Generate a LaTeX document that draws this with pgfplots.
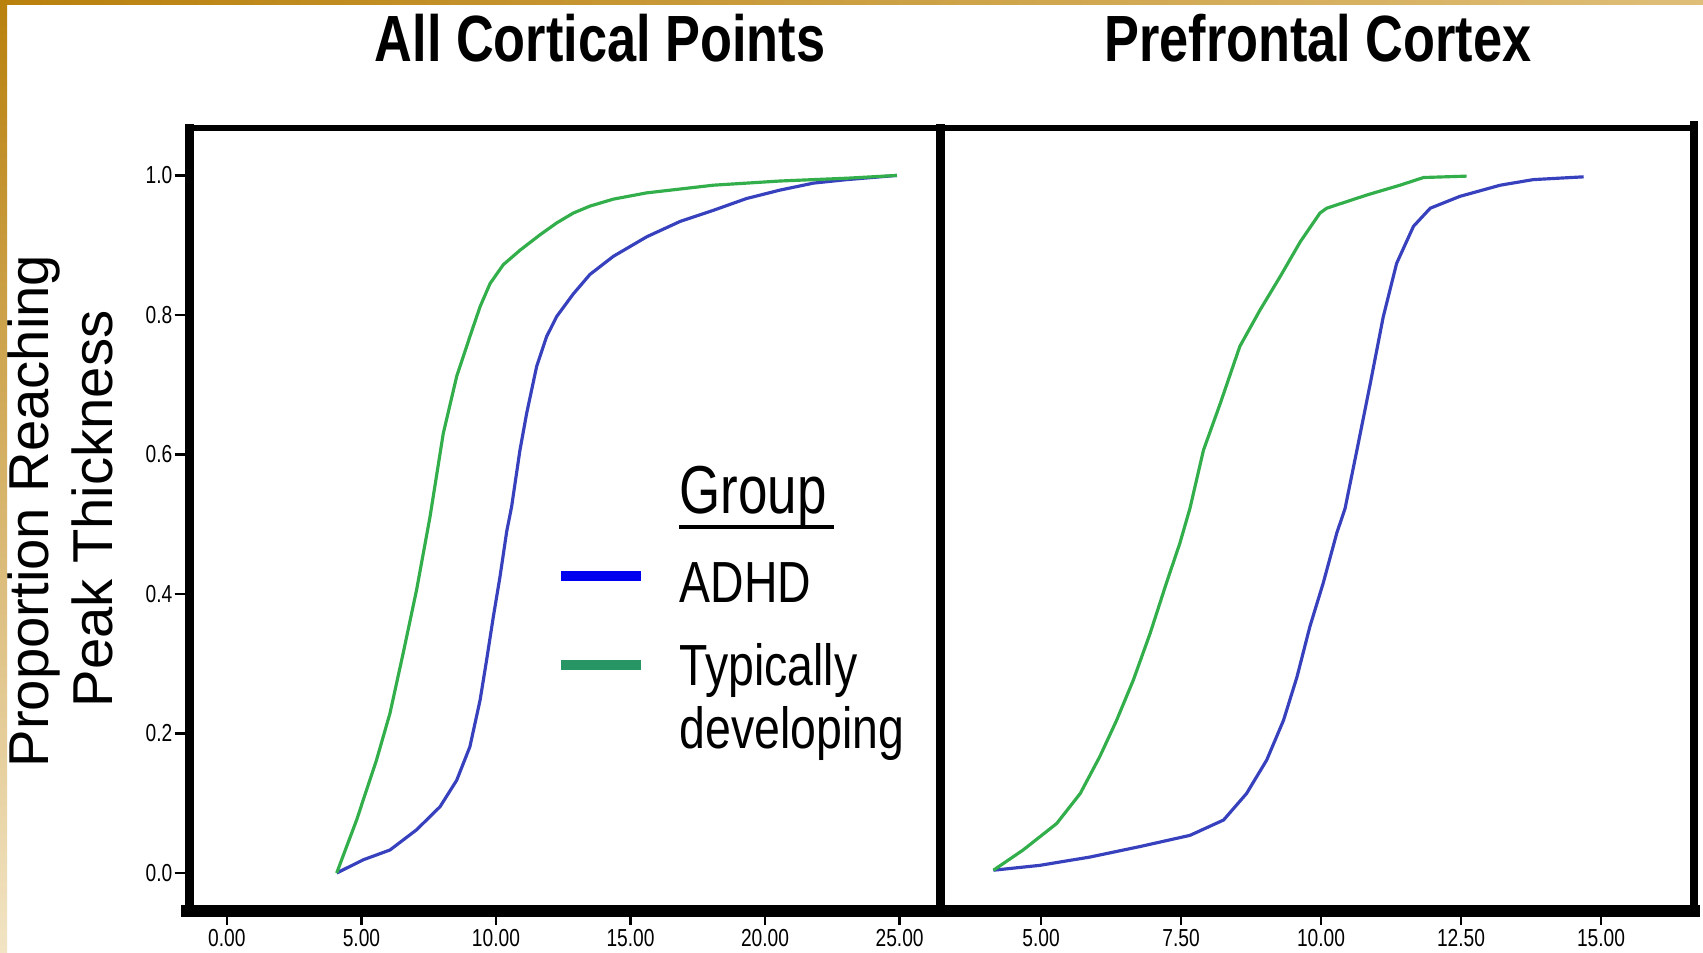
\documentclass[border=0pt]{standalone}
\usepackage{fontspec}
\setmainfont{Liberation Sans}
\usepackage{pgfplots}
\pgfplotsset{compat=1.18}
\definecolor{adhdcurve}{RGB}{55,65,190}
\definecolor{tdcurve}{RGB}{50,175,75}
\definecolor{adhdleg}{RGB}{0,0,240}
\definecolor{tdleg}{RGB}{40,150,100}
\definecolor{goldA}{RGB}{185,128,12}
\definecolor{goldB}{RGB}{222,190,120}
\definecolor{goldC}{RGB}{242,228,196}

\pgfplotsset{
  panel/.style={
    scale only axis, height=7.82cm,
    ymin=-0.053, ymax=1.068,
    axis line style={draw=none},
    tick align=outside, major tick length=0.15cm,
    tick style={black, line width=0.7pt},
    xtick pos=left, ytick pos=left,
    tick label style={font=\fontsize{7}{8}\selectfont, xscale=0.78},
    /pgf/number format/assume math mode=true,
    x tick label style={inner sep=1pt, /pgf/number format/.cd, fixed, fixed zerofill, precision=2},
    y tick label style={inner sep=0.6pt, /pgf/number format/.cd, fixed, fixed zerofill, precision=1},
    clip=false,
  }
}

\begin{document}
\begin{tikzpicture}
\path[use as bounding box] (0,0) rectangle (17.03,9.53);
\fill[white] (0,0) rectangle (17.03,9.53);
\shade[left color=goldA, right color=goldB] (0,9.485) rectangle (17.03,9.53);
\shade[top color=goldA, bottom color=goldC] (0,0) rectangle (0.07,9.53);

% ---------------- Left panel: All Cortical Points
\begin{axis}[panel, name=L,
  at={(1.895cm,0.43cm)}, anchor=south west, width=7.51cm,
  xmin=-1.39, xmax=26.52,
  xtick={0,5,10,15,20,25},
  ytick={0,0.2,0.4,0.6,0.8,1},
]
\addplot[adhdcurve, line width=0.9pt] coordinates {
(4.08,0) (5.07,0.019) (6.06,0.033) (7.05,0.062) (7.92,0.095) (8.54,0.133)
(9.03,0.181) (9.41,0.248) (9.65,0.305) (9.90,0.367) (10.15,0.425) (10.40,0.490)
(10.58,0.525) (10.89,0.606) (11.14,0.659) (11.51,0.726) (11.88,0.769) (12.26,0.798)
(12.87,0.830) (13.49,0.858) (14.36,0.884) (15.60,0.912) (16.84,0.934) (18.08,0.950)
(19.32,0.967) (20.56,0.979) (21.80,0.989) (23.04,0.994) (24.28,0.998) (24.9,1.0)
};
\addplot[tdcurve, line width=0.9pt] coordinates {
(4.08,0) (4.82,0.076) (5.56,0.162) (6.06,0.229) (6.55,0.315) (7.05,0.406)
(7.55,0.511) (8.04,0.630) (8.54,0.712) (9.03,0.769) (9.41,0.812) (9.78,0.845)
(10.27,0.872) (10.9,0.893) (11.64,0.915) (12.26,0.932) (12.87,0.946) (13.49,0.956)
(14.36,0.966) (15.60,0.975) (18.08,0.986) (20.56,0.992) (23.04,0.996) (24.9,1.0)
};
\end{axis}

% ---------------- Right panel: Prefrontal Cortex
\begin{axis}[panel, name=R,
  at={(9.405cm,0.43cm)}, anchor=south west, width=7.535cm,
  xmin=3.205, xmax=16.66,
  xtick={5,7.5,10,12.5,15},
  ytick=\empty,
]
\addplot[adhdcurve, line width=0.9pt] coordinates {
(4.15,0.004) (4.98,0.011) (5.88,0.023) (6.77,0.038) (7.66,0.054) (8.26,0.076)
(8.67,0.114) (9.03,0.162) (9.33,0.219) (9.57,0.281) (9.80,0.353) (10.04,0.416)
(10.28,0.487) (10.43,0.523) (10.64,0.606) (10.88,0.702) (11.11,0.797) (11.35,0.874)
(11.65,0.927) (11.95,0.953) (12.48,0.970) (13.20,0.986) (13.79,0.994) (14.69,0.998)
};
\addplot[tdcurve, line width=0.9pt] coordinates {
(4.15,0.004) (4.68,0.033) (5.28,0.071) (5.70,0.114) (6.05,0.167) (6.35,0.219)
(6.65,0.277) (6.95,0.344) (7.24,0.416) (7.48,0.473) (7.66,0.523) (7.90,0.606)
(8.20,0.673) (8.55,0.755) (8.91,0.807) (9.27,0.855) (9.63,0.905) (9.98,0.946)
(10.10,0.953) (10.82,0.972) (11.41,0.986) (11.83,0.997) (12.60,0.999)
};
\end{axis}

% ---------------- frame
\draw[line width=1.7pt, line cap=rect] (1.895,8.25) -- (16.94,8.25);
\draw[line width=2.3pt, line cap=rect] (1.895,0.43) -- (1.895,8.25);
\draw[line width=2.5pt, line cap=rect] (9.405,0.43) -- (9.405,8.25);
\draw[line width=2.3pt, line cap=rect] (16.94,0.43) -- (16.94,8.28);
\draw[line width=3.4pt, line cap=rect] (1.87,0.42) -- (16.94,0.42);

% ---------------- titles
\node[anchor=base, inner sep=0, font=\fontsize{18.6}{20}\selectfont\bfseries, xscale=0.8] at (6.00,8.91) {All Cortical Points};
\node[anchor=base, inner sep=0, font=\fontsize{18.6}{20}\selectfont\bfseries, xscale=0.8] at (13.18,8.91) {Prefrontal Cortex};

% ---------------- y label
\node[rotate=90, anchor=base, inner sep=0, font=\fontsize{16}{18}\selectfont] at (0.48,4.42) {Proportion Reaching};
\node[rotate=90, anchor=base, inner sep=0, font=\fontsize{16}{18}\selectfont] at (1.12,4.44) {Peak Thickness};

% ---------------- legend
\draw[adhdleg, line width=3.1pt] (5.61,3.77) -- (6.41,3.77);
\draw[tdleg, line width=3.1pt] (5.61,2.88) -- (6.41,2.88);
\node[anchor=base west, inner sep=0, font=\fontsize{19.3}{22}\selectfont, xscale=0.78] at (6.79,4.39) {Group};
\draw[line width=1.1pt] (6.79,4.26) -- (8.34,4.26);
\node[anchor=base west, inner sep=0, font=\fontsize{16.5}{19}\selectfont, xscale=0.8] at (6.79,3.50) {ADHD};
\node[anchor=base west, inner sep=0, font=\fontsize{16.5}{19}\selectfont, xscale=0.8] at (6.79,2.67) {Typically};
\node[anchor=base west, inner sep=0, font=\fontsize{16.5}{19}\selectfont, xscale=0.8] at (6.79,2.04) {developing};
\end{tikzpicture}
\end{document}
